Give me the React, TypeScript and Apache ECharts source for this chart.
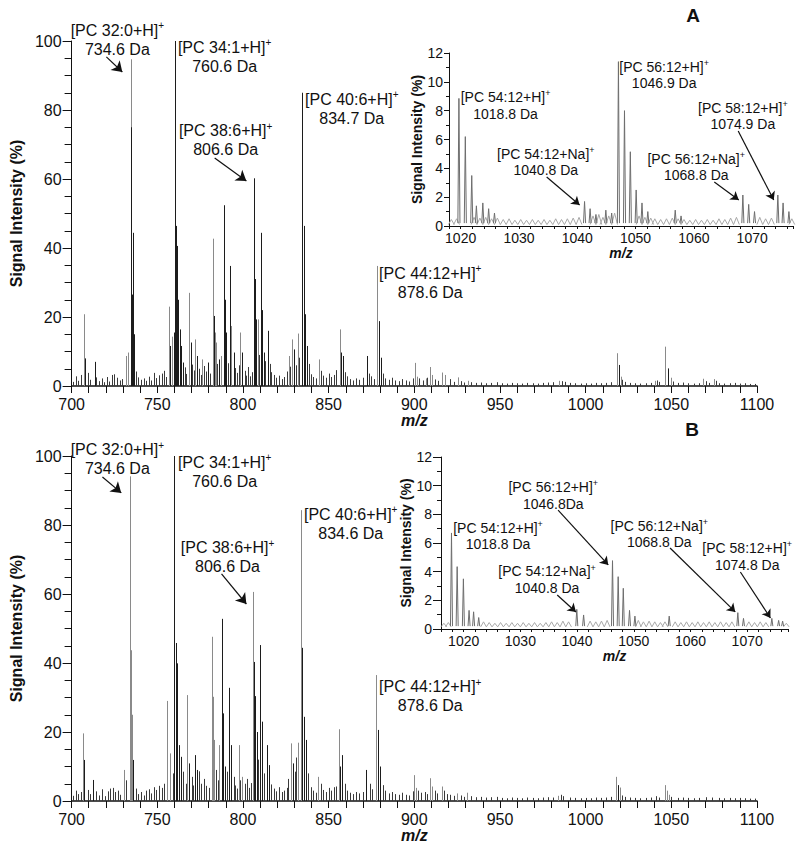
import React, { useEffect, useRef } from "react";
import * as echarts from "echarts";

const FONT = "'Liberation Sans', Arial, Helvetica, sans-serif";
const INK = "#111111";

// ---------------- Panel A (main spectrum) ----------------
const peaksA_dark: number[][] = [
  [708, 8], [713.5, 7], [734.5, 75], [735, 26.5], [735.7, 44.4], [736.3, 15], [757.4, 11.6], [759.7, 15.5],
  [760.5, 100], [761.1, 46.4], [761.6, 40.6], [762, 25], [763.2, 16.4], [763.8, 11.6], [765, 6.8], [769.4, 12.6],
  [773.4, 8.7], [779.4, 6.8], [783.1, 20.3], [786, 7.7], [788.7, 52.4], [789.3, 25], [790, 15.5], [792.6, 34.8],
  [794.7, 9.7], [799.7, 9.7], [806.3, 60.2], [807.2, 31], [807.6, 19.3], [810.5, 44.4], [811.1, 22], [812, 9.7],
  [814.6, 16], [830, 10.6], [834.3, 85], [835.5, 46.4], [836.2, 20.8], [837.4, 11.6], [857.5, 9.7], [858.5, 8.7],
  [872.4, 8.7], [879.3, 18.8], [880.5, 8.2], [1019.6, 6.1], [1047.8, 5.1],
];
const peaksA_gray: number[][] = [
  [707.1, 20.8], [731.9, 8.7], [733, 9.7], [734.4, 94.7], [756.6, 23], [758.6, 14.3], [768.4, 27], [772.3, 13.5],
  [776.3, 7.7], [782.5, 42.7], [783.9, 15.5], [784.4, 12.6], [787.3, 8.7], [793.3, 17.4], [798.4, 15.5],
  [808.6, 19.3], [826.6, 8.7], [828.5, 13.5], [832.2, 15.2], [844.2, 7.7], [856.5, 16.4], [878.5, 34.8],
  [900.3, 6.7], [901.8, 2.7], [906.6, 2.2], [909.4, 5.5], [910.4, 3.2], [916.4, 3.9], [918.1, 3.2], [925.5, 2.5],
  [931.6, 1.5], [984.7, 1.5], [1018.2, 9.5], [1020.5, 2.7], [1040.3, 1.5], [1046.6, 11.4], [1049.6, 2.4],
  [1068.6, 2.1], [1074.7, 2.0],
];
const noiseA: number[][] = [
  [701, 1.2], [702.5, 2.8], [704, 1.5], [705.5, 3.2], [709.5, 3.8], [711, 1.8], [714.5, 2.5], [716, 1.4], [717.5, 2.2],
  [719, 1.1], [720.5, 2.6], [722, 1.3], [723.5, 3.2], [725, 3.4], [726.5, 2.4], [728, 1.6], [729.5, 2.0], [737.5, 4.2],
  [739, 2.5], [740.5, 1.8], [742, 2.2], [743.5, 1.5], [745, 2.7], [746.5, 1.6], [748, 3.8], [749.5, 2.3], [751, 3.1],
  [752.5, 3.6], [754, 4.4], [755, 2.6], [766, 5.4], [767, 3.5], [770.5, 6.2], [771.5, 4.5], [774.5, 5.0], [775.5, 3.2],
  [777.5, 5.8], [778.5, 4.2], [780.5, 3.6], [785, 6.4], [787, 4.8], [791, 6.6], [795.5, 5.2], [796.5, 3.8], [797.5, 6.0],
  [801, 4.4], [802, 3.0], [803, 5.5], [804, 2.8], [805, 4.0], [809.5, 9.0], [813, 7.2], [815.5, 6.4], [816.5, 4.0],
  [818, 3.2], [819.5, 2.4], [821, 3.0], [822.5, 2.0], [824, 2.6], [825.5, 4.2], [827.5, 5.6], [831, 6.0], [833, 8.2],
  [838.5, 6.4], [839.5, 3.4], [841, 2.6], [842.5, 2.2], [845.5, 4.4], [847, 3.0], [848.5, 2.4], [850, 3.6], [851.5, 2.6],
  [853, 3.2], [854.5, 4.6], [859.5, 4.0], [861, 2.8], [862.5, 2.0], [864, 1.6], [866, 2.2], [868, 1.8], [870, 2.4],
  [873.5, 3.6], [875, 2.8], [876.5, 2.0], [881.5, 3.6], [883, 2.2], [885, 1.8], [887, 2.4], [889, 1.6], [891, 1.4],
  [893, 2.0], [895, 1.6], [897, 1.3], [899, 2.2], [903, 2.2], [905, 1.6], [907.5, 2.4], [912, 1.9], [914, 1.5],
  [921, 2.0], [923, 1.2], [927.5, 1.4], [929, 1.0], [933, 1.1], [936, 0.9], [939, 1.0], [942, 0.8], [945, 0.9],
  [948, 1.1], [951, 0.8], [954, 0.7], [957, 0.9], [960, 0.8], [963, 0.7], [966, 0.9], [969, 0.8], [972, 0.7],
  [975, 0.9], [978, 1.0], [981, 1.1], [986, 1.4], [988, 1.2], [991, 0.9], [994, 0.8], [997, 0.7], [1000, 0.8],
  [1003, 0.7], [1006, 0.9], [1009, 0.8], [1012, 0.9], [1015, 1.1], [1021.5, 1.8], [1023, 1.2], [1026, 0.9],
  [1029, 0.8], [1032, 0.7], [1035, 0.8], [1038, 0.9], [1041.5, 1.6], [1043, 1.2], [1051, 1.3], [1054, 0.9],
  [1057, 1.0], [1060, 0.8], [1063, 0.7], [1066, 0.8], [1070, 1.4], [1072, 0.9], [1076, 1.5], [1078, 0.8],
  [1081, 0.7], [1084, 0.8], [1087, 0.9], [1090, 0.7], [1093, 0.8], [1096, 0.6], [1099, 0.6],
];

// ---------------- Panel A (inset) ----------------
const insetA_peaks: number[][] = [
  [1019.7, 8.85], [1020.8, 6.2], [1021.9, 3.5], [1022.7, 1.4], [1023.8, 1.6], [1024.8, 1.2], [1025.8, 0.9],
  [1041.25, 1.7], [1042.2, 1.2], [1043.2, 0.8], [1044.9, 1.1], [1045.9, 0.9], [1047.06, 11.4], [1048.1, 8.0],
  [1049.1, 5.15], [1050.1, 2.5], [1051.1, 1.6], [1052.1, 1.0], [1056.8, 1.1], [1057.8, 0.7], [1068.4, 2.15],
  [1069.4, 1.5], [1070.4, 1.0], [1074.4, 2.15], [1075.3, 1.6], [1076.3, 1.0],
];
const insetA_noise: number[][] = [
  [1018.4, 0.45], [1019.3, 0.5], [1022.3, 0.6], [1023.3, 0.55], [1024.3, 0.6], [1025.3, 0.5], [1026.3, 0.55],
  [1027.3, 0.45], [1028.3, 0.5], [1029.3, 0.4], [1030.3, 0.45], [1031.3, 0.4], [1032.3, 0.45], [1033.3, 0.4],
  [1034.3, 0.45], [1035.3, 0.4], [1036.3, 0.5], [1037.3, 0.45], [1038.3, 0.5], [1039.3, 0.55], [1040.3, 0.6],
  [1042.7, 0.7], [1043.7, 0.8], [1044.4, 0.6], [1045.4, 0.7], [1046.4, 0.9], [1050.6, 0.7], [1051.6, 0.6],
  [1052.6, 0.55], [1053.3, 0.5], [1054.3, 0.45], [1055.3, 0.5], [1056.3, 0.55], [1057.3, 0.5], [1058.3, 0.45],
  [1059.3, 0.4], [1060.3, 0.45], [1061.3, 0.4], [1062.3, 0.45], [1063.3, 0.4], [1064.3, 0.5], [1065.3, 0.45],
  [1066.3, 0.55], [1067.3, 0.6], [1071.3, 0.6], [1072.3, 0.5], [1073.3, 0.55], [1076.8, 0.5],
];

// ---------------- Panel B (main spectrum) ----------------
const peaksB_dark: number[][] = [
  [707.1, 11.9], [712.6, 6.1], [735.7, 11.9], [759.9, 100], [760.9, 45.8], [761.6, 39.9], [762.8, 16.2],
  [763.8, 12.8], [768.6, 10.9], [772.1, 13.3], [773, 9], [787.9, 52.8], [788.5, 25.4], [789.5, 10], [791.9, 32.8],
  [793.3, 16.2], [806.3, 40.3], [806.9, 30.4], [808.2, 20], [810, 45.2], [811.1, 23], [814, 16.2], [815, 10.4],
  [829.1, 10.9], [834.7, 44.4], [835.8, 24.4], [836.8, 17.7], [856.9, 10], [858, 13.3], [872, 9], [878.6, 20.6],
  [879.7, 10], [1018.9, 4.6],
];
const peaksB_gray: number[][] = [
  [706.8, 19.6], [730.5, 9], [734, 94.1], [734.4, 43.7], [735, 25], [755.7, 29], [757.4, 13.8], [767.6, 30.7],
  [781.7, 47.6], [782.3, 30.2], [783.1, 17.7], [786.2, 16.2], [797.6, 16.2], [799.7, 7], [805.9, 60.6],
  [827.9, 16.7], [832, 16.9], [833.7, 84.3], [844, 7], [855.9, 20.8], [877.8, 36.5], [899.8, 7.5], [900.8, 3.8],
  [909, 6.6], [910.1, 4.2], [915.9, 4.2], [925.1, 2.2], [930.9, 2.4], [984, 1.5], [1018, 7], [1020.1, 3.9],
  [1046.3, 4.6], [1047.3, 3], [1048.6, 1.8],
];
const noiseB: number[][] = [
  [701, 1.5], [702.5, 3.0], [704, 2.0], [705.5, 2.6], [709.5, 3.2], [711, 2.0], [714.5, 2.8], [716, 1.6], [718, 3.4],
  [719.5, 1.4], [721, 2.8], [722.5, 3.6], [724, 3.8], [725.5, 2.6], [727, 3.0], [728.5, 1.8], [732, 6.0], [737.5, 3.6],
  [739, 2.0], [740.5, 2.6], [742, 1.6], [743.5, 3.0], [745, 3.4], [746.5, 2.2], [748, 4.0], [749.5, 3.2], [751, 4.4],
  [752.5, 3.8], [754, 5.0], [759, 8.0], [765, 8.5], [766.5, 5.0], [770, 7.0], [771, 4.5], [774.5, 8.6], [775.5, 5.0],
  [777, 6.4], [778.5, 4.4], [780, 3.8], [784.5, 9.0], [785.5, 6.0], [790.5, 8.5], [794.5, 7.0], [795.5, 4.5],
  [796.5, 3.6], [798.5, 6.0], [801, 5.0], [802.5, 6.4], [803.5, 3.8], [804.5, 5.2], [809, 12.0], [812.5, 8.0],
  [816.5, 4.8], [818, 3.6], [819.5, 2.8], [821, 4.0], [822.5, 2.6], [824, 3.0], [825.5, 3.8], [826.5, 6.4],
  [830.5, 8.5], [831, 12.6], [838, 8.0], [839.5, 4.0], [841, 3.0], [842.5, 2.4], [845.5, 5.0], [847, 3.2], [848.5, 2.6],
  [850, 3.8], [851.5, 3.0], [853, 4.0], [854.5, 4.2], [859.5, 5.0], [861, 3.0], [862.5, 2.4], [864, 2.0], [866, 2.6],
  [868, 2.2], [870, 2.6], [874, 5.0], [875.5, 3.4], [881.5, 4.6], [883, 3.0], [885, 2.2], [887, 2.6], [889, 2.0],
  [891, 1.8], [893, 2.4], [895, 1.8], [897, 1.6], [899, 2.8], [902, 3.0], [904, 2.4], [906, 2.6], [907.5, 2.0],
  [912, 3.0], [913.5, 2.2], [917.5, 3.0], [919, 2.0], [921, 1.8], [923, 1.5], [927.5, 1.6], [929, 1.2], [933, 1.4],
  [936, 1.1], [939, 1.2], [942, 1.0], [945, 1.1], [948, 1.2], [951, 0.9], [954, 0.8], [957, 1.0], [960, 0.9],
  [963, 0.8], [966, 1.0], [969, 0.9], [972, 0.8], [975, 1.0], [978, 1.1], [981, 1.0], [985.5, 1.8], [987, 1.4],
  [991, 1.0], [994, 0.9], [997, 0.8], [1000, 0.9], [1003, 0.8], [1006, 1.0], [1009, 0.9], [1012, 1.0], [1015, 1.2],
  [1021.5, 1.6], [1023, 1.2], [1026, 1.0], [1029, 0.9], [1032, 0.8], [1035, 0.9], [1038, 1.0], [1041, 1.4],
  [1043, 1.0], [1050, 1.2], [1054, 0.9], [1057, 1.0], [1060, 0.9], [1063, 0.8], [1066, 0.9], [1070, 1.1],
  [1074, 1.0], [1078, 0.9], [1081, 0.8], [1084, 0.9], [1087, 0.8], [1090, 0.9], [1093, 0.8], [1096, 0.7], [1099, 0.7],
];

// ---------------- Panel B (inset) ----------------
const insetB_peaks: number[][] = [
  [1017.85, 6.7], [1018.85, 4.35], [1019.95, 3.5], [1020.95, 1.3], [1021.75, 1.2], [1022.65, 0.8],
  [1039.95, 1.37], [1041.15, 0.98], [1046.25, 4.77], [1047.25, 3.65], [1048.15, 2.84], [1049.25, 1.3],
  [1050.2, 0.9], [1056.25, 0.9], [1068.35, 1.14], [1069.35, 0.74], [1074.35, 0.74], [1075.55, 0.6], [1076.25, 0.55],
];
const insetB_noise: number[][] = [
  [1016.5, 0.4], [1017.3, 0.45], [1023.5, 0.5], [1024.5, 0.45], [1025.5, 0.4], [1026.5, 0.45], [1027.5, 0.4],
  [1028.5, 0.45], [1029.5, 0.4], [1030.5, 0.45], [1031.5, 0.4], [1032.5, 0.45], [1033.5, 0.4], [1034.5, 0.45],
  [1035.5, 0.5], [1036.5, 0.45], [1037.5, 0.55], [1038.5, 0.5], [1042.3, 0.55], [1043.3, 0.5], [1044.3, 0.55],
  [1045.3, 0.6], [1050.8, 0.6], [1051.7, 0.5], [1052.7, 0.55], [1053.7, 0.5], [1054.7, 0.45], [1055.5, 0.5],
  [1057.3, 0.5], [1058.3, 0.45], [1059.3, 0.5], [1060.3, 0.45], [1061.3, 0.5], [1062.3, 0.45], [1063.3, 0.5],
  [1064.3, 0.45], [1065.3, 0.5], [1066.3, 0.45], [1067.3, 0.5], [1070.3, 0.5], [1071.3, 0.45], [1072.3, 0.5],
  [1073.3, 0.45], [1076.9, 0.4],
];

// ---------------- Annotation texts ----------------
const annotA = [
  { ion: "[PC 32:0+H]", mass: "734.6 Da" },
  { ion: "[PC 34:1+H]", mass: "760.6 Da" },
  { ion: "[PC 38:6+H]", mass: "806.6 Da" },
  { ion: "[PC 40:6+H]", mass: "834.7 Da" },
  { ion: "[PC 44:12+H]", mass: "878.6 Da" },
];
const annotInsetA = [
  { ion: "[PC 54:12+H]", mass: "1018.8 Da" },
  { ion: "[PC 54:12+Na]", mass: "1040.8 Da" },
  { ion: "[PC 56:12+H]", mass: "1046.9 Da" },
  { ion: "[PC 56:12+Na]", mass: "1068.8 Da" },
  { ion: "[PC 58:12+H]", mass: "1074.9 Da" },
];
const annotB = [
  { ion: "[PC 32:0+H]", mass: "734.6 Da" },
  { ion: "[PC 34:1+H]", mass: "760.6 Da" },
  { ion: "[PC 38:6+H]", mass: "806.6 Da" },
  { ion: "[PC 40:6+H]", mass: "834.6 Da" },
  { ion: "[PC 44:12+H]", mass: "878.6 Da" },
];
const annotInsetB = [
  { ion: "[PC 54:12+H]", mass: "1018.8 Da" },
  { ion: "[PC 54:12+Na]", mass: "1040.8 Da" },
  { ion: "[PC 56:12+H]", mass: "1046.8Da" },
  { ion: "[PC 56:12+Na]", mass: "1068.8 Da" },
  { ion: "[PC 58:12+H]", mass: "1074.8 Da" },
];

// Layout: annotation anchors and arrows, in data units of each plot
const annotPosA = [[726.7, 100.3], [789.3, 95.5], [789.9, 71.3], [863.5, 80.4], [909.3, 29.9]];
const arrowsA = [[720.3, 95.4, 729.6, 91.0], [783.5, 66.1, 802.0, 59.4]];
const annotPosInsetA = [[1027.7, 8.36], [1034.6, 4.44], [1054.9, 10.47], [1060.4, 4.09], [1068.4, 7.63]];
const arrowsInsetA = [[1034.75, 3.4, 1040.4, 1.46], [1063.5, 3.05, 1067.7, 1.8], [1067.6, 6.59, 1073.7, 1.8]];
const annotPosB = [[726.7, 99.0], [789.3, 95.5], [791.0, 70.7], [862.9, 80.3], [909.3, 30.4]];
const arrowsB = [[718.0, 93.9, 729.0, 89.3], [787.5, 65.8, 802.0, 57.1]];
const annotPosInsetB = [[1026.06, 6.49], [1034.7, 3.45], [1035.8, 9.32], [1054.5, 6.63], [1070.0, 5.06]];
const arrowsInsetB = [
  [1036.5, 2.37, 1039.8, 1.19], [1036.65, 8.3, 1045.5, 4.47], [1056.4, 5.65, 1067.9, 1.19], [1068.8, 3.98, 1074.1, 0.77],
];

const stick = (color: string) => (_p: any, api: any) => {
  const x = api.value(0);
  const y = api.value(1);
  const a = api.coord([x, 0]);
  const b = api.coord([x, y]);
  const px = Math.round(a[0]) + 0.5;
  return { type: "line", silent: true, shape: { x1: px, y1: a[1], x2: px, y2: b[1] }, style: { stroke: color, lineWidth: 1 } };
};

const tri = (color: string, half: number, base: number) => (_p: any, api: any) => {
  const x = api.value(0);
  const y = api.value(1);
  const a = api.coord([x - half, base]);
  const b = api.coord([x, y]);
  const c = api.coord([x + half, base]);
  return { type: "polyline", silent: true, shape: { points: [a, b, c] }, style: { stroke: color, fill: "none", lineWidth: 1 } };
};

function customSeries(idx: number, data: number[][], renderItem: any, z = 2) {
  return { type: "custom", xAxisIndex: idx, yAxisIndex: idx, data, renderItem, encode: { x: 0, y: 1 }, z, silent: true, clip: false };
}

function labelSeries(idx: number, texts: { ion: string; mass: string }[], pos: number[][], arrows: number[][], big: boolean) {
  const fs = big ? 16 : 14;
  const lh = big ? 19 : 16.5;
  const ss = big ? 10 : 9;
  return {
    type: "custom",
    xAxisIndex: idx,
    yAxisIndex: idx,
    clip: false,
    silent: true,
    z: 5,
    encode: { x: 0, y: 1 },
    data: pos.map((p) => [p[0], p[1]]),
    renderItem: (params: any, api: any) => {
      const t = texts[params.dataIndex];
      const pt = api.coord([api.value(0), api.value(1)]);
      return {
        type: "text",
        x: pt[0],
        y: pt[1],
        silent: true,
        style: {
          text: `{t|${t.ion}}{s|+}\n{t|${t.mass}}`,
          fill: INK,
          align: "center",
          verticalAlign: "middle",
          fontFamily: FONT,
          fontSize: fs,
          rich: {
            t: { fontSize: fs, lineHeight: lh, fontFamily: FONT, fill: INK, color: INK, align: "center" },
            s: { fontSize: ss, lineHeight: ss, fontFamily: FONT, fill: INK, color: INK, align: "center", verticalAlign: "top" },
          },
        },
      };
    },
    markLine: {
      silent: true,
      animation: false,
      symbol: ["none", "arrow"],
      symbolSize: big ? 10 : 8,
      label: { show: false },
      lineStyle: { color: INK, width: 1.2, type: "solid" },
      data: arrows.map((a) => [{ coord: [a[0], a[1]] }, { coord: [a[2], a[3]] }]),
    },
  };
}

const lineStyle = { color: INK, width: 1 };

function mainX(idx: number, nameGap: number) {
  return {
    type: "value", gridIndex: idx, min: 700, max: 1100, interval: 50,
    axisLine: { show: true, onZero: false, lineStyle: { color: INK, width: 1.5 } },
    axisTick: { show: true, length: 7, lineStyle },
    minorTick: { show: true, splitNumber: 5, length: 7, lineStyle },
    splitLine: { show: false },
    axisLabel: { fontSize: 16, margin: 10, color: INK, fontFamily: FONT, formatter: (v: number) => String(Math.round(v)) },
    name: "m/z", nameLocation: "middle", nameGap,
    nameTextStyle: { fontSize: 16, fontWeight: "bold", fontStyle: "italic", color: INK, fontFamily: FONT },
  };
}
function mainY(idx: number) {
  return {
    type: "value", gridIndex: idx, min: 0, max: 100, interval: 20,
    axisLine: { show: true, lineStyle },
    axisTick: { show: true, length: 9, lineStyle },
    minorTick: { show: true, splitNumber: 4, length: 7, lineStyle },
    splitLine: { show: false },
    axisLabel: { fontSize: 16, margin: 10, color: INK, fontFamily: FONT },
    name: "Signal Intensity (%)", nameLocation: "middle", nameGap: 44,
    nameTextStyle: { fontSize: 16, fontWeight: "bold", color: INK, fontFamily: FONT },
  };
}
function insetX(idx: number, min: number, max: number, nameGap: number) {
  return {
    type: "value", gridIndex: idx, min, max, interval: 2,
    axisLine: { show: true, onZero: false, lineStyle },
    axisTick: { show: true, length: 3, lineStyle },
    splitLine: { show: false },
    axisLabel: {
      fontSize: 14, margin: 5, color: INK, fontFamily: FONT,
      formatter: (v: number) => (Math.abs(v % 10) < 1e-6 ? String(Math.round(v)) : ""),
    },
    name: "m/z", nameLocation: "middle", nameGap,
    nameTextStyle: { fontSize: 14, fontWeight: "bold", fontStyle: "italic", color: INK, fontFamily: FONT },
  };
}
function insetY(idx: number, tickLen: number, minorLen: number, margin: number, nameGap: number) {
  return {
    type: "value", gridIndex: idx, min: 0, max: 12, interval: 2,
    axisLine: { show: true, lineStyle },
    axisTick: { show: true, length: tickLen, lineStyle },
    minorTick: { show: true, splitNumber: 2, length: minorLen, lineStyle },
    splitLine: { show: false },
    axisLabel: { fontSize: 14, margin, color: INK, fontFamily: FONT },
    name: "Signal Intensity (%)", nameLocation: "middle", nameGap,
    nameTextStyle: { fontSize: 14, fontWeight: "bold", color: INK, fontFamily: FONT },
  };
}

function buildOption() {
  const DARK = "#1c1c1c";
  const GRAY = "#8a8a8a";
  const NOISE = "#3a3a3a";
  const INSET = "#6e6e6e";
  const INSET_NOISE = "#a8a8a8";
  return {
    animation: false,
    backgroundColor: "#ffffff",
    grid: [
      { left: 67, top: 41, width: 690, height: 345 },
      { left: 449, top: 53, width: 344, height: 173 },
      { left: 67, top: 456, width: 690, height: 345 },
      { left: 441, top: 457, width: 347, height: 172 },
    ],
    xAxis: [mainX(0, 24), insetX(1, 1018, 1077, 17), mainX(2, 26), insetX(3, 1016, 1077.2, 14)],
    yAxis: [mainY(0), insetY(1, 5, 3, 6, 23), mainY(2), insetY(3, 8, 4, 9, 26)],
    graphic: [
      { type: "text", x: 693, y: 15, style: { text: "A", fontSize: 19, fontWeight: "bold", fontFamily: FONT, fill: INK, align: "center", verticalAlign: "middle" } },
      { type: "text", x: 692, y: 429, style: { text: "B", fontSize: 19, fontWeight: "bold", fontFamily: FONT, fill: INK, align: "center", verticalAlign: "middle" } },
    ],
    series: [
      customSeries(0, noiseA, stick(NOISE), 1),
      customSeries(0, peaksA_gray, stick(GRAY), 2),
      customSeries(0, peaksA_dark, stick(DARK), 3),
      labelSeries(0, annotA, annotPosA, arrowsA, true),
      customSeries(1, insetA_noise, tri(INSET_NOISE, 0.5, 0.1), 1),
      customSeries(1, insetA_peaks, tri(INSET, 0.18, 0.2), 2),
      labelSeries(1, annotInsetA, annotPosInsetA, arrowsInsetA, false),
      customSeries(2, noiseB, stick(NOISE), 1),
      customSeries(2, peaksB_gray, stick(GRAY), 2),
      customSeries(2, peaksB_dark, stick(DARK), 3),
      labelSeries(2, annotB, annotPosB, arrowsB, true),
      customSeries(3, insetB_noise, tri(INSET_NOISE, 0.5, 0.15), 1),
      customSeries(3, insetB_peaks, tri(INSET, 0.18, 0.2), 2),
      labelSeries(3, annotInsetB, annotPosInsetB, arrowsInsetB, false),
    ],
  };
}

export default function App() {
  const ref = useRef<HTMLDivElement>(null);
  useEffect(() => {
    if (!ref.current) return;
    const chart = echarts.init(ref.current, null, { renderer: "svg" });
    chart.setOption(buildOption() as any);
    return () => chart.dispose();
  }, []);
  return (
    <div
      ref={ref}
      style={{ position: "fixed", left: 0, top: 0, width: 800, height: 846, background: "#ffffff" }}
    />
  );
}
